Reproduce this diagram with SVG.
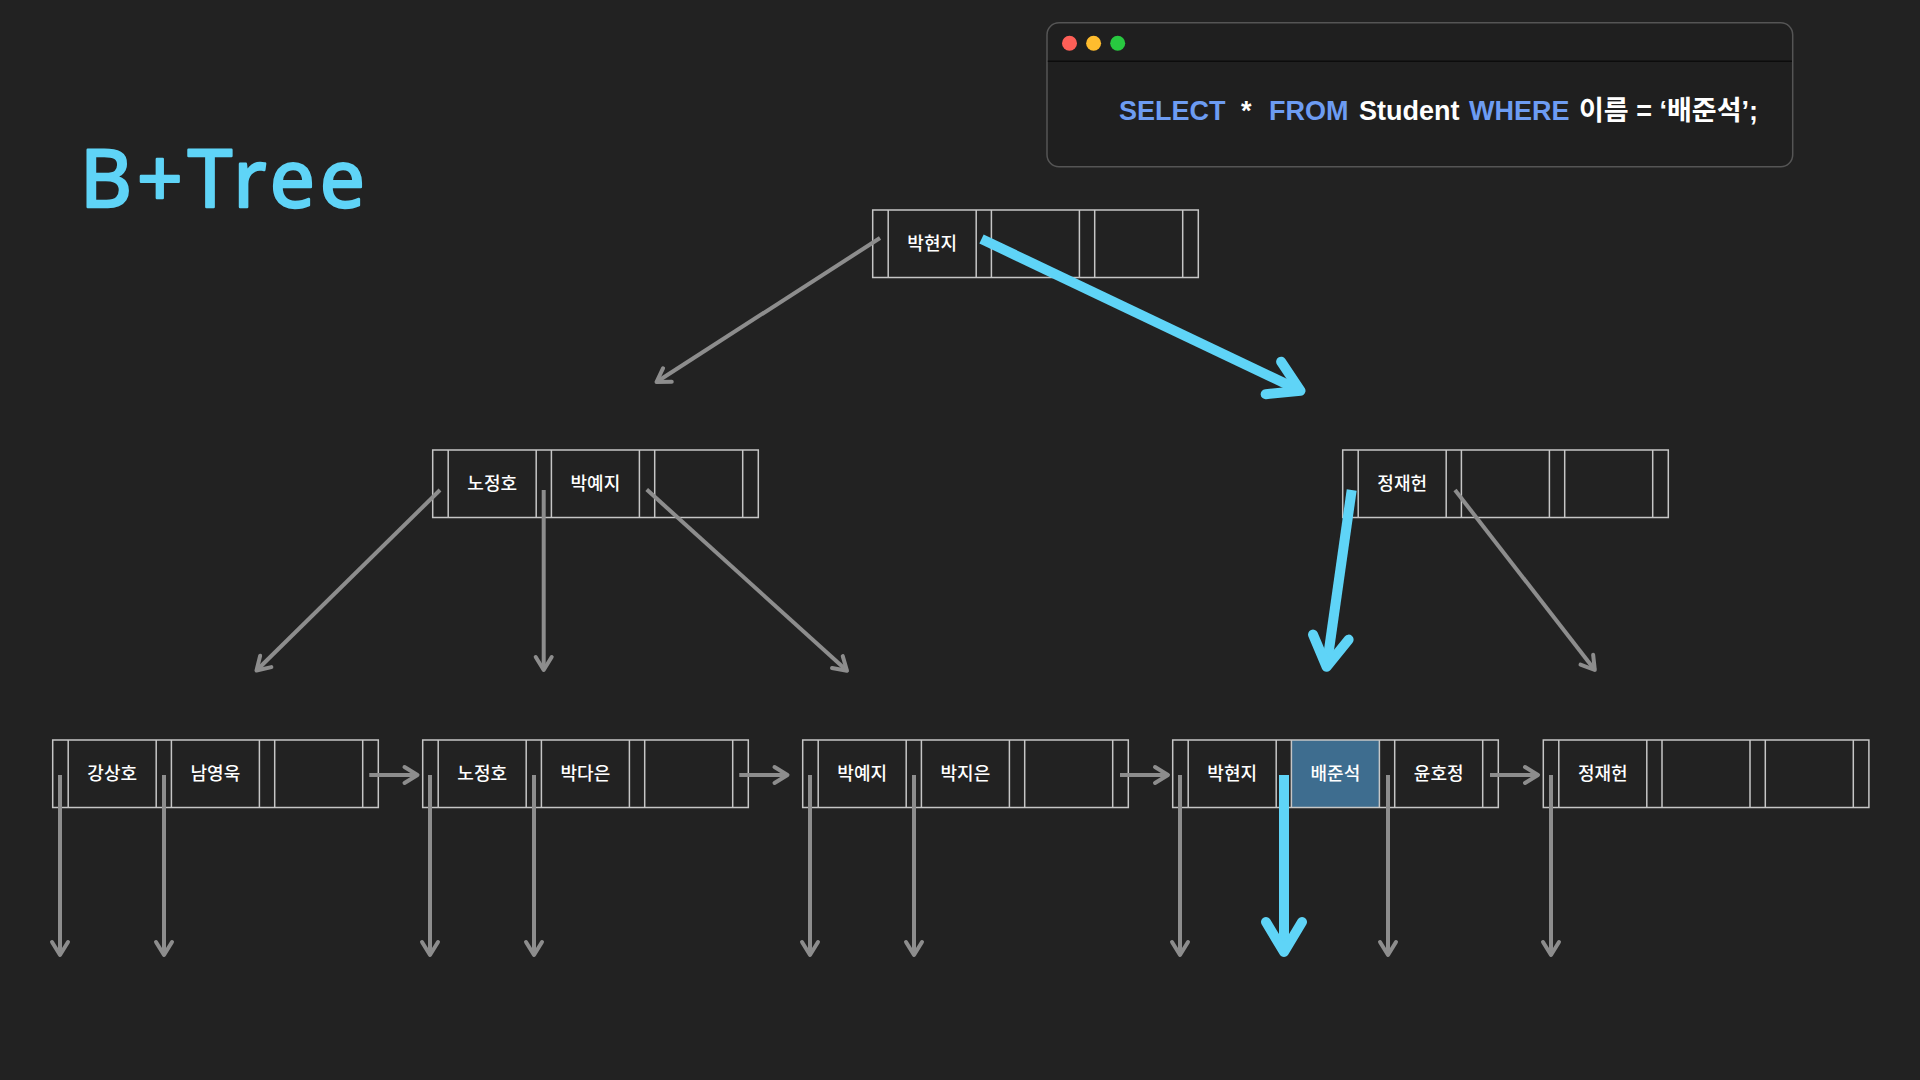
<svg xmlns="http://www.w3.org/2000/svg" xmlns:xlink="http://www.w3.org/1999/xlink" width="1920" height="1080" viewBox="0 0 1920 1080">
<style>
.key{font-family:"Noto Sans CJK KR","Noto Sans",sans-serif;font-size:18px;font-weight:500;fill:#ffffff;text-anchor:middle}
.g{stroke:#8d8d8d;stroke-width:4;fill:none}
.c{stroke:#5fd4f7;stroke-width:10;fill:none}
.sql{font-family:"Liberation Sans","Noto Sans CJK KR",sans-serif;font-size:27px;font-weight:bold;fill:#ffffff}
.kw{fill:#6d9cf2}
</style>
<defs>
<g id="frame" fill="none" stroke="#c6c6c6" stroke-width="1.5">
<rect x="0" y="0" width="325.6" height="67.5"/>
<path d="M15.5,0V67.5M103.5,0V67.5M118.7,0V67.5M206.7,0V67.5M222,0V67.5M310,0V67.5"/>
</g>
<marker id="hg" markerUnits="userSpaceOnUse" orient="auto" overflow="visible" refX="0" refY="0" markerWidth="1" markerHeight="1">
<path d="M-13,-8 L0,0 L-13,8" fill="none" stroke="#8d8d8d" stroke-width="4" stroke-linecap="round" stroke-linejoin="round"/>
</marker>
<marker id="hc" markerUnits="userSpaceOnUse" orient="auto" overflow="visible" refX="0" refY="0" markerWidth="1" markerHeight="1">
<path d="M-30,-18 L0,0 L-30,18" fill="none" stroke="#5fd4f7" stroke-width="10" stroke-linecap="round" stroke-linejoin="round"/>
</marker>
</defs>
<rect x="0" y="0" width="1920" height="1080" fill="#222222"/>

<g id="title">
<text x="80" y="207" font-family="'Noto Sans',sans-serif" font-size="80" font-weight="400" fill="#5fd4f7" stroke="#5fd4f7" stroke-width="2.5" stroke-linejoin="round" stroke-linecap="round" letter-spacing="5">B+Tree</text>
</g>

<g id="sql-window">
<rect x="1047" y="22.7" width="745.7" height="144" rx="12" ry="12" fill="#1f1f1f" stroke="#555555" stroke-width="1.5"/>
<line x1="1047.8" y1="61.3" x2="1792" y2="61.3" stroke="#0c0c0c" stroke-width="1.5"/>
<circle cx="1069.5" cy="43.3" r="7.5" fill="#fe5f57"/>
<circle cx="1093.6" cy="43.3" r="7.5" fill="#febc2e"/>
<circle cx="1117.7" cy="43.3" r="7.5" fill="#28c840"/>
<text class="sql" y="120"><tspan class="kw" x="1119">SELECT</tspan><tspan x="1241">*</tspan><tspan class="kw" x="1269">FROM</tspan><tspan x="1359">Student</tspan><tspan class="kw" x="1469">WHERE</tspan><tspan x="1579">이름 = ‘배준석’;</tspan></text>
</g>

<g id="node-root" transform="translate(872.7,210)">
<use xlink:href="#frame" href="#frame"/>
<text class="key" x="59.5" y="40">박현지</text>
</g>

<g id="node-inner-left" transform="translate(432.7,450)">
<use xlink:href="#frame" href="#frame"/>
<text class="key" x="59.5" y="40">노정호</text>
<text class="key" x="162.7" y="40">박예지</text>
</g>

<g id="node-inner-right" transform="translate(1342.7,450)">
<use xlink:href="#frame" href="#frame"/>
<text class="key" x="59.5" y="40">정재헌</text>
</g>

<g id="leaf-1" transform="translate(52.7,740)">
<use xlink:href="#frame" href="#frame"/>
<text class="key" x="59.5" y="40">강상호</text>
<text class="key" x="162.7" y="40">남영욱</text>
</g>

<g id="leaf-2" transform="translate(422.7,740)">
<use xlink:href="#frame" href="#frame"/>
<text class="key" x="59.5" y="40">노정호</text>
<text class="key" x="162.7" y="40">박다은</text>
</g>

<g id="leaf-3" transform="translate(802.7,740)">
<use xlink:href="#frame" href="#frame"/>
<text class="key" x="59.5" y="40">박예지</text>
<text class="key" x="162.7" y="40">박지은</text>
</g>

<g id="leaf-4" transform="translate(1172.7,740)">
<rect x="118.7" y="0" width="88" height="67.5" fill="#3e6d8f"/>
<use xlink:href="#frame" href="#frame"/>
<text class="key" x="59.5" y="40">박현지</text>
<text class="key" x="162.7" y="40">배준석</text>
<text class="key" x="266" y="40">윤호정</text>
</g>

<g id="leaf-5" transform="translate(1543.3,740)">
<use xlink:href="#frame" href="#frame"/>
<text class="key" x="59.5" y="40">정재헌</text>
</g>

<g id="connectors">
<line class="g" x1="880" y1="238" x2="656.5" y2="382" marker-end="url(#hg)"/>
<line class="g" x1="440" y1="490" x2="256.5" y2="670.5" marker-end="url(#hg)"/>
<line class="g" x1="543.7" y1="490" x2="543.7" y2="670" marker-end="url(#hg)"/>
<line class="g" x1="646.7" y1="489.5" x2="847" y2="670.8" marker-end="url(#hg)"/>
<line class="g" x1="1455" y1="490" x2="1594.8" y2="670" marker-end="url(#hg)"/>

<line class="g" x1="60" y1="775" x2="60" y2="955" marker-end="url(#hg)"/>
<line class="g" x1="164" y1="775" x2="164" y2="955" marker-end="url(#hg)"/>
<line class="g" x1="430" y1="775" x2="430" y2="955" marker-end="url(#hg)"/>
<line class="g" x1="534" y1="775" x2="534" y2="955" marker-end="url(#hg)"/>
<line class="g" x1="810" y1="775" x2="810" y2="955" marker-end="url(#hg)"/>
<line class="g" x1="914" y1="775" x2="914" y2="955" marker-end="url(#hg)"/>
<line class="g" x1="1180" y1="775" x2="1180" y2="955" marker-end="url(#hg)"/>
<line class="g" x1="1388" y1="775" x2="1388" y2="955" marker-end="url(#hg)"/>
<line class="g" x1="1551" y1="775" x2="1551" y2="955" marker-end="url(#hg)"/>

<line class="g" x1="369.3" y1="775" x2="417.5" y2="775" marker-end="url(#hg)"/>
<line class="g" x1="739.3" y1="775" x2="787.5" y2="775" marker-end="url(#hg)"/>
<line class="g" x1="1120" y1="775" x2="1168" y2="775" marker-end="url(#hg)"/>
<line class="g" x1="1490" y1="775" x2="1538" y2="775" marker-end="url(#hg)"/>

<line class="c" x1="981.5" y1="239" x2="1300.5" y2="390.8" marker-end="url(#hc)"/>
<line class="c" x1="1351.7" y1="490" x2="1326.6" y2="666.8" marker-end="url(#hc)"/>
<line class="c" x1="1284" y1="775" x2="1284" y2="952" marker-end="url(#hc)"/>
</g>
</svg>
